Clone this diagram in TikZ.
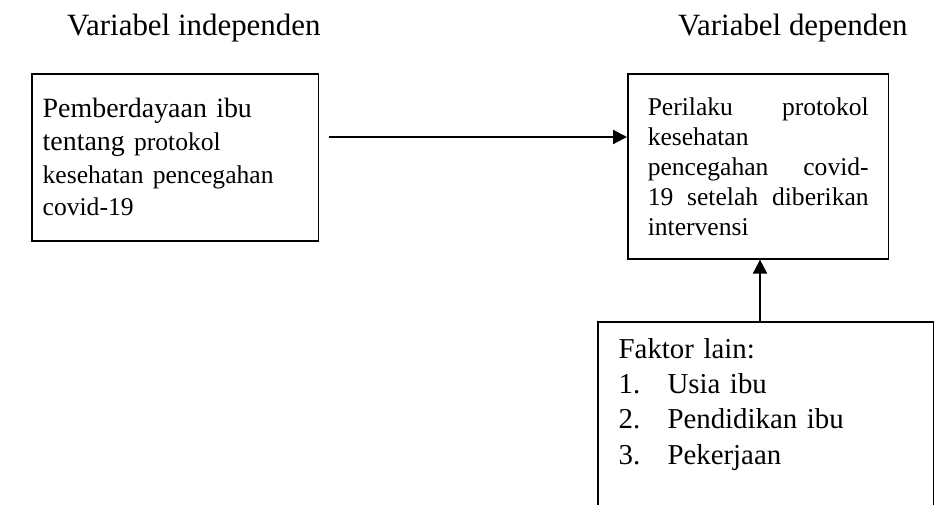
\documentclass[tikz,border=0pt]{standalone}
\usepackage{fontspec}
\setmainfont{Liberation Serif}
\usetikzlibrary{arrows.meta}

\newcommand{\kecil}{\fontsize{11}{14}\selectfont}

\begin{document}
\begin{tikzpicture}[
  x=0.43pt, y=-0.43pt,
  kotak/.style={draw=black, line width=0.65pt, rectangle, anchor=north west, align=left},
  judul/.style={anchor=base west, font=\fontsize{13.3}{16}\selectfont},
  panah/.style={line width=0.9pt, -{Triangle[length=6pt,width=6pt]}}
]
\useasboundingbox (0,0) rectangle (934,504);

% titles
\node[judul] (jdl1) at (59,35) {Variabel independen};
\node[judul] (jdl2) at (670,35) {Variabel dependen};

% boxes
\node[kotak, text width=114pt, inner xsep=4.7pt, minimum height=71.8pt,
      font=\fontsize{12}{14}\selectfont] (indep) at (31,73)
  {Pemberdayaan ibu\\ tentang {\kecil protokol}\\ {\kecil kesehatan pencegahan}\\ {\kecil covid-19}\\[-3pt]};
\node[kotak, text width=95pt, inner xsep=8.6pt, minimum height=79.6pt,
      font=\fontsize{11}{12.9}\selectfont] (dep) at (627,73)
  {Perilaku\hfill protokol\\ kesehatan\\ pencegahan\hfill covid-\\ 19\hfill setelah\hfill diberikan\\ intervensi};
\node[kotak, text width=126.4pt, inner xsep=9pt, inner ysep=7pt,
      font=\fontsize{12.4}{15.2}\selectfont] (lain) at (597,321)
  {Faktor lain:\\ \makebox[21pt][l]{1.}Usia ibu\\ \makebox[21pt][l]{2.}Pendidikan ibu\\
   \makebox[21pt][l]{3.}Pekerjaan\\ \mbox{}\\ \mbox{}};

% arrows
\draw[panah, shorten <=3.9pt] (indep.east |- 0,137) -- (dep.west |- 0,137);
\draw[panah] (lain.north -| 760,0) -- (dep.south -| 760,0);

\end{tikzpicture}
\end{document}
